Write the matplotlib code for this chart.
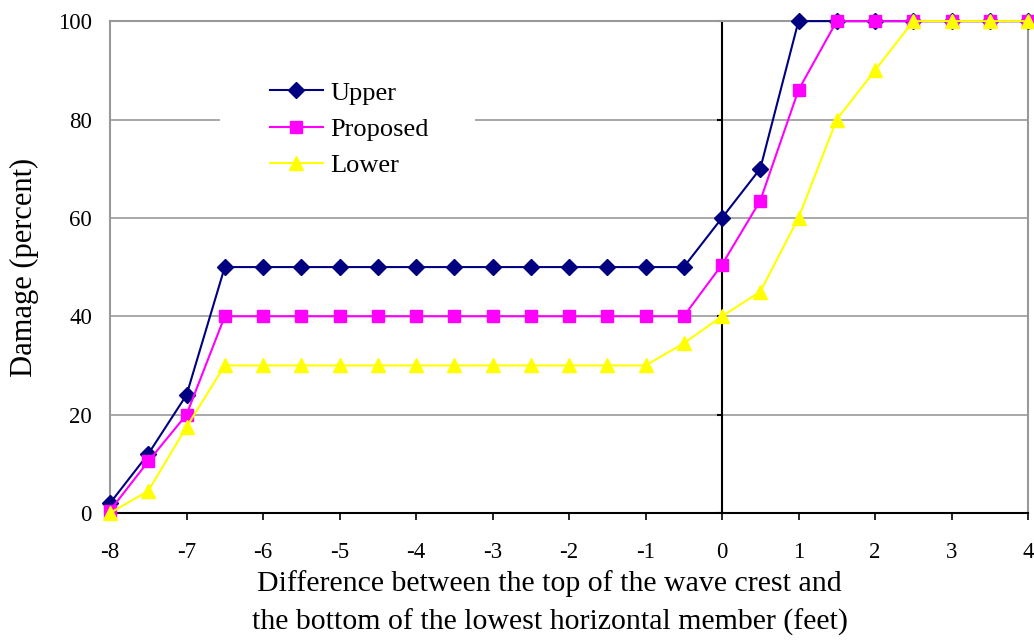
import numpy as np
import matplotlib
matplotlib.use("Agg")
import matplotlib.pyplot as plt
from matplotlib.patches import Rectangle

plt.rcParams['font.family'] = ['Liberation Serif', 'DejaVu Serif']
plt.rcParams['axes.unicode_minus'] = False

# wave crest minus lowest member elevation (feet)
diff_ft = [-8, -7.5, -7, -6.5, -6, -5.5, -5, -4.5, -4, -3.5, -3, -2.5, -2,
           -1.5, -1, -0.5, 0, 0.5, 1, 1.5, 2, 2.5, 3, 3.5, 4]

upper = [2, 12, 24, 50, 50, 50, 50, 50, 50, 50, 50, 50, 50,
         50, 50, 50, 60, 70, 100, 100, 100, 100, 100, 100, 100]
proposed = [0.5, 10.5, 20, 40, 40, 40, 40, 40, 40, 40, 40, 40, 40,
            40, 40, 40, 50.5, 63.5, 86, 100, 100, 100, 100, 100, 100]
lower = [0, 4.5, 17.5, 30, 30, 30, 30, 30, 30, 30, 30, 30, 30,
         30, 30, 34.5, 40, 45, 60, 80, 90, 100, 100, 100, 100]

x_ticks = [-8, -7, -6, -5, -4, -3, -2, -1, 0, 1, 2, 3, 4]
y_ticks = [0, 20, 40, 60, 80, 100]

fig = plt.figure(figsize=(10.34, 6.4), dpi=100)
ax = fig.add_axes([0.1064, 0.1984, 0.8878, 0.7686])

ax.plot(diff_ft, upper, color='#000080', marker='D', markersize=8, lw=1.5,
        label='Upper', clip_on=False, zorder=3)
ax.plot(diff_ft, proposed, color='#FF00FF', marker='s', markersize=8, lw=1.5,
        label='Proposed', clip_on=False, zorder=4)
ax.plot(diff_ft, lower, color='#FFFF00', marker='^', markersize=10, lw=1.5,
        label='Lower', clip_on=False, zorder=5)

ax.set_xlim(-8, 4)
ax.set_ylim(0, 100)
ax.set_xticks(x_ticks)
ax.set_yticks(y_ticks)
ax.tick_params(axis='x', direction='out', length=5, width=1.2, labelsize=16.5, pad=16)
ax.tick_params(axis='y', length=0, labelsize=16.5, pad=13)

for y in y_ticks[1:-1]:
    ax.axhline(y, color='#999999', lw=1.2, zorder=1)

for side in ['left', 'right', 'top']:
    ax.spines[side].set_color('#999999')
    ax.spines[side].set_linewidth(1.5)
ax.spines['bottom'].set_color('black')
ax.spines['bottom'].set_linewidth(1.5)

# vertical axis crossing at zero, with short ticks on its left side
ax.axvline(0, color='black', lw=1.5, zorder=2)
for y in y_ticks:
    ax.plot([-0.07, 0], [y, y], color='black', lw=1.5, zorder=2,
            solid_capstyle='butt')

ax.set_xlabel('Difference between the top of the wave crest and\n'
              'the bottom of the lowest horizontal member (feet)',
              fontsize=21.5, linespacing=1.55)
ax.xaxis.set_label_coords(0.479, -0.116)
ax.set_ylabel('Damage (percent)', fontsize=22, labelpad=14)

# white backing behind the legend hides the gridline
ax.add_patch(Rectangle((0.12, 0.665), 0.278, 0.242, transform=ax.transAxes,
                       facecolor='white', edgecolor='none', zorder=1.5))

leg = ax.legend(loc='upper left', bbox_to_anchor=(0.174, 0.878), fontsize=19,
                frameon=False, handlelength=2.0, handletextpad=0.3,
                borderpad=0, labelspacing=0.48, borderaxespad=0)
leg.set_zorder(6)

fig.savefig('out.png', dpi=100)
